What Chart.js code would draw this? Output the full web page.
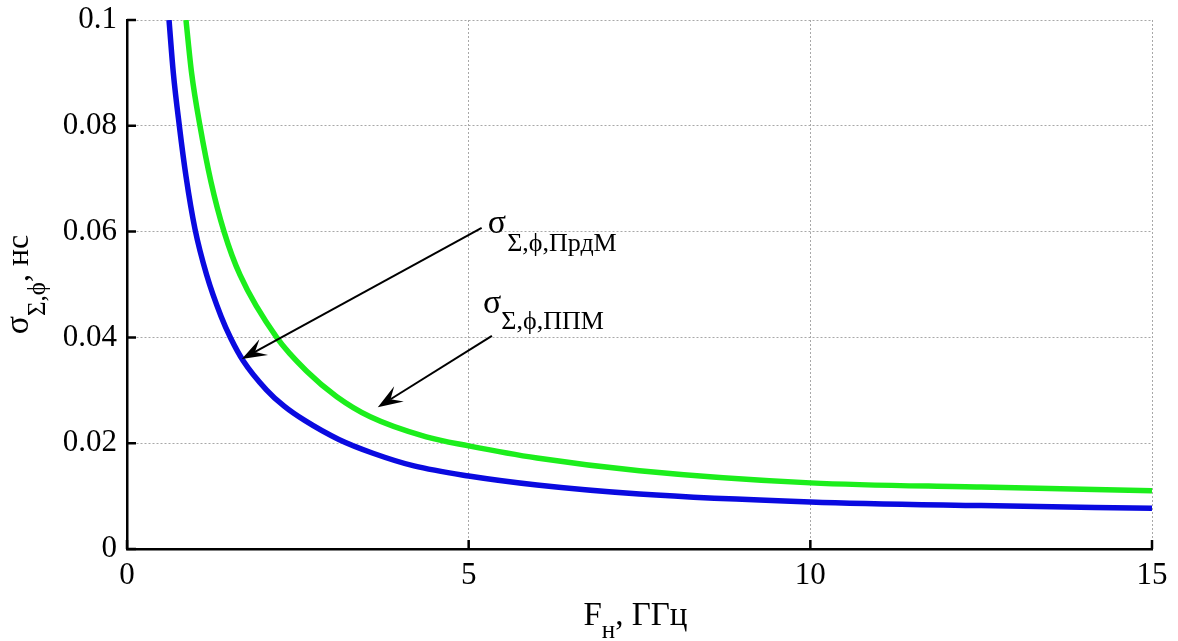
<!DOCTYPE html>
<html>
<head>
<meta charset="utf-8">
<script src="https://cdn.jsdelivr.net/npm/chart.js@4.4.0/dist/chart.umd.min.js"></script>
<style>
  html, body { margin: 0; padding: 0; background: #fff; }
</style>
</head>
<body>
<canvas id="chart" width="1178" height="641"></canvas>
<script>
// values: F in GHz, sigma in ns
const blueF = [0.615, 0.678, 0.766, 0.863, 0.995, 1.166, 1.376, 1.52, 1.7, 2.04, 2.3, 2.6, 3.1, 3.6, 4.2, 5, 6, 7.5, 10, 12.5, 15];
const blueSigma = [0.1, 0.09, 0.08, 0.0705, 0.0605, 0.0518, 0.044, 0.0398, 0.0356, 0.0301, 0.027, 0.0243, 0.0207, 0.0181, 0.0157, 0.0138, 0.0121, 0.0104, 0.0089, 0.0082, 0.0077];

const greenF = [0.863, 0.946, 1.068, 1.229, 1.42, 1.654, 2.19, 2.63, 3.07, 3.56, 4.38, 5, 6, 7.5, 10, 12.5, 15];
const greenSigma = [0.1, 0.0899, 0.08, 0.0694, 0.06, 0.0518, 0.040, 0.0336, 0.0288, 0.025, 0.0212, 0.0195, 0.0172, 0.0148, 0.0125, 0.0117, 0.011];

const xTicks = [0, 5, 10, 15];
const yTicks = [0, 0.02, 0.04, 0.06, 0.08, 0.1];

// annotation arrows: [fromF, fromSigma, toF, toSigma]
const arrowPrdm = [5.19, 0.0607, 1.68, 0.0359];
const arrowPpm = [5.34, 0.0403, 3.67, 0.0268];
// label anchors: [F, sigma] of the sigma glyph's baseline start
const labelPrdm = [5.28, 0.0597];
const labelPpm = [5.21, 0.0446];

const SERIF = '"Liberation Serif", "Times New Roman", serif';

function toPoints(xs, ys) {
  return xs.map((x, i) => ({ x: x, y: ys[i] }));
}

// text with subscripts, drawn from the baseline start
function drawSubText(ctx, parts, x, y) {
  let cx = x;
  parts.forEach((p) => {
    ctx.font = p.size + "px " + SERIF;
    ctx.fillText(p.text, cx, y + (p.shift || 0));
    cx += ctx.measureText(p.text).width + (p.gap || 0);
  });
  return cx - x;
}

function measureParts(ctx, parts) {
  let w = 0;
  parts.forEach((p) => {
    ctx.font = p.size + "px " + SERIF;
    w += ctx.measureText(p.text).width + (p.gap || 0);
  });
  return w;
}

function drawArrow(ctx, x1, y1, x2, y2) {
  const dx = x2 - x1, dy = y2 - y1;
  const len = Math.sqrt(dx * dx + dy * dy);
  const ux = dx / len, uy = dy / len;
  const nx = -uy, ny = ux;
  const L = 25, W = 9, N = 15;
  ctx.save();
  ctx.strokeStyle = "#000";
  ctx.fillStyle = "#000";
  ctx.lineWidth = 2;
  ctx.beginPath();
  ctx.moveTo(x1, y1);
  ctx.lineTo(x2 - N * ux, y2 - N * uy);
  ctx.stroke();
  ctx.beginPath();
  ctx.moveTo(x2, y2);
  ctx.lineTo(x2 - L * ux + W * nx, y2 - L * uy + W * ny);
  ctx.lineTo(x2 - N * ux, y2 - N * uy);
  ctx.lineTo(x2 - L * ux - W * nx, y2 - L * uy - W * ny);
  ctx.closePath();
  ctx.fill();
  ctx.restore();
}

const extras = {
  id: "extras",
  afterDraw(chart) {
    const ctx = chart.ctx;
    const xs = chart.scales.x, ys = chart.scales.y;
    const area = chart.chartArea;

    // inward tick marks
    ctx.save();
    ctx.strokeStyle = "#000";
    ctx.lineWidth = 2.5;
    ctx.beginPath();
    yTicks.forEach((v) => {
      const py = ys.getPixelForValue(v);
      ctx.moveTo(area.left, py);
      ctx.lineTo(area.left + 9, py);
    });
    xTicks.forEach((v) => {
      const px = xs.getPixelForValue(v);
      ctx.moveTo(px, area.bottom);
      ctx.lineTo(px, area.bottom - 9);
    });
    ctx.stroke();
    ctx.restore();

    // arrows
    [arrowPrdm, arrowPpm].forEach((a) => {
      drawArrow(ctx, xs.getPixelForValue(a[0]), ys.getPixelForValue(a[1]),
        xs.getPixelForValue(a[2]), ys.getPixelForValue(a[3]));
    });

    ctx.save();
    ctx.fillStyle = "#000";
    ctx.textBaseline = "alphabetic";
    ctx.textAlign = "left";

    // curve labels
    drawSubText(ctx, [
      { text: "σ", size: 34, gap: 1 },
      { text: "Σ,ϕ,ПрдМ", size: 26, shift: 18 }
    ], xs.getPixelForValue(labelPrdm[0]), ys.getPixelForValue(labelPrdm[1]));
    drawSubText(ctx, [
      { text: "σ", size: 34, gap: 0 },
      { text: "Σ,ϕ,ППМ", size: 26, shift: 16 }
    ], xs.getPixelForValue(labelPpm[0]), ys.getPixelForValue(labelPpm[1]));

    // x axis title
    const xParts = [
      { text: "F", size: 33 },
      { text: "н", size: 25, shift: 13 },
      { text: ", ГГц", size: 33 }
    ];
    const xw = measureParts(ctx, xParts);
    drawSubText(ctx, xParts, (area.left + area.right) / 2 - xw / 2 - 4, 625);

    // y axis title, rotated
    const yParts = [
      { text: "σ", size: 34 },
      { text: "Σ,ϕ", size: 25, shift: 17 },
      { text: ", нс", size: 32 }
    ];
    const yw = measureParts(ctx, yParts);
    ctx.translate(28, (area.top + area.bottom) / 2 + yw / 2);
    ctx.rotate(-Math.PI / 2);
    drawSubText(ctx, yParts, 0, 0);
    ctx.restore();
  }
};

const gridColor = (c) => (c.tick && c.tick.value === 0 ? "rgba(0,0,0,0)" : "#a8a8a8");

const ctx = document.getElementById("chart").getContext("2d");
const chart = new Chart(ctx, {
  type: "line",
  data: {
    datasets: [
      {
        label: "ППМ",
        data: toPoints(greenF, greenSigma),
        borderColor: "#1cee1c",
        borderWidth: 5.5,
        pointRadius: 0,
        fill: false,
        cubicInterpolationMode: "monotone"
      },
      {
        label: "ПрдМ",
        data: toPoints(blueF, blueSigma),
        borderColor: "#0a0ae0",
        borderWidth: 5.5,
        pointRadius: 0,
        fill: false,
        cubicInterpolationMode: "monotone"
      }
    ]
  },
  options: {
    responsive: false,
    animation: false,
    devicePixelRatio: 1,
    layout: { padding: { top: 20, right: 26, left: 0, bottom: 0 } },
    plugins: {
      legend: { display: false },
      tooltip: { enabled: false }
    },
    scales: {
      x: {
        type: "linear",
        min: 0,
        max: 15,
        afterBuildTicks: (s) => { s.ticks = xTicks.map((v) => ({ value: v })); },
        afterFit: (s) => {
          s.height = 92;
          s.paddingLeft = 0;
          s.paddingRight = 0;
        },
        ticks: {
          font: { family: SERIF, size: 31 },
          color: "#000",
          padding: 8,
          maxRotation: 0,
          callback: (v) => String(v)
        },
        grid: { color: gridColor, lineWidth: 1, drawTicks: false },
        border: { display: true, color: "#000", width: 2.5, dash: [2, 2] }
      },
      y: {
        type: "linear",
        min: 0,
        max: 0.1,
        afterBuildTicks: (s) => { s.ticks = yTicks.map((v) => ({ value: v })); },
        afterFit: (s) => {
          s.width = 127;
          s.paddingTop = 0;
          s.paddingBottom = 0;
        },
        ticks: {
          font: { family: SERIF, size: 31 },
          color: "#000",
          padding: 10,
          callback: (v) => String(v)
        },
        grid: { color: gridColor, lineWidth: 1, drawTicks: false },
        border: { display: true, color: "#000", width: 2.5, dash: [2, 2] }
      }
    }
  },
  plugins: [extras]
});
</script>
</body>
</html>
